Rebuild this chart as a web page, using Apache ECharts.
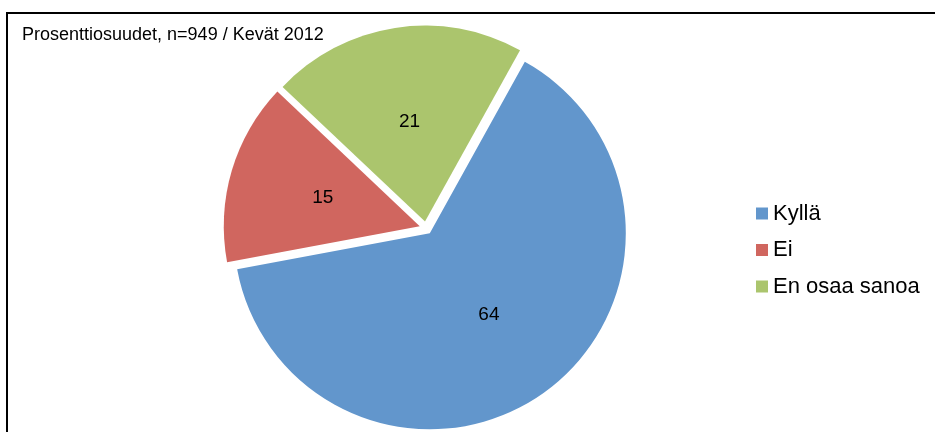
<!DOCTYPE html>
<html>
<head>
<meta charset="utf-8">
<script src="https://cdn.jsdelivr.net/npm/echarts@6/dist/echarts.min.js"></script>
<style>
html,body{margin:0;padding:0;background:#fff;}
#chart{width:935px;height:432px;}
</style>
</head>
<body>
<div id="chart"></div>
<script>
var categories = ['Kyllä', 'Ei', 'En osaa sanoa'];
var values = [64, 15, 21];
var colors = ['#6296CC', '#D0665F', '#ABC56D'];
var titleText = 'Prosenttiosuudet, n=949 / Kevät 2012';

var chart = echarts.init(document.getElementById('chart'), null, {renderer: 'canvas'});
var data = categories.map(function (c, i) {
  return { name: c, value: values[i], selected: true, itemStyle: { color: colors[i] } };
});
chart.setOption({
  animation: false,
  color: colors,
  title: {
    text: titleText,
    left: 17, top: 21,
    textStyle: { fontFamily: 'Liberation Sans, Arial, sans-serif', fontSize: 18, fontWeight: 'normal', color: '#000' }
  },
  legend: {
    orient: 'vertical',
    left: 751, top: 197.5,
    itemWidth: 12, itemHeight: 12,
    itemGap: 14.5,
    icon: 'rect',
    selectedMode: false,
    data: categories,
    textStyle: { fontFamily: 'Liberation Sans, Arial, sans-serif', fontSize: 22, color: '#000', lineHeight: 22 }
  },
  graphic: [{
    type: 'polyline',
    shape: { points: [[7, 432], [7, 13], [935, 13]] },
    style: { stroke: '#000', lineWidth: 2, fill: null }
  }],
  series: [{
    type: 'pie',
    center: [426, 228],
    radius: 196,
    startAngle: 61,
    clockwise: true,
    selectedMode: 'multiple',
    selectedOffset: 6.5,
    emphasis: { disabled: true },
    select: { itemStyle: {} },
    label: {
      show: true,
      position: 'inside',
      formatter: '{c}',
      color: '#000',
      fontSize: 19,
      fontFamily: 'Liberation Sans, Arial, sans-serif'
    },
    labelLine: { show: false },
    itemStyle: { borderWidth: 0 },
    data: data
  }]
});
</script>
</body>
</html>
